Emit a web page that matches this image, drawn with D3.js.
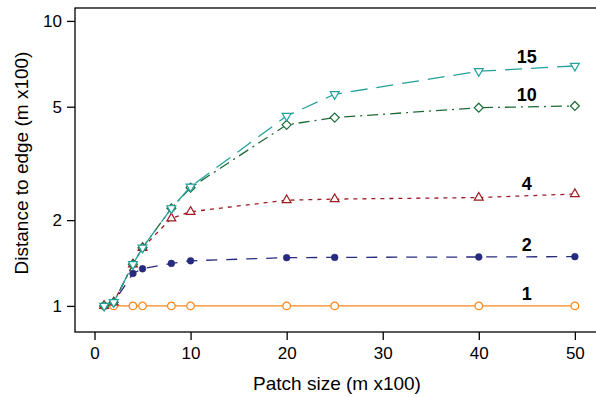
<!DOCTYPE html>
<html>
<head>
<meta charset="utf-8">
<script src="https://cdn.jsdelivr.net/npm/d3@7"></script>
<style>
    body { margin: 0; background: #fff; }
    svg { display: block; font-family: "Liberation Sans", Arial, sans-serif; }
    .axis path, .axis line { stroke: #000; stroke-width: 1.3; }
    .axis text { font-size: 17px; fill: #000; }
    .title { font-size: 19px; fill: #000; }
    .seriesLabel { font-size: 18px; font-weight: bold; fill: #000; }
</style>
</head>
<body>
<script>
    //patch sizes (m x100)
    var patchSize = [1, 2, 4, 5, 8, 10, 20, 25, 40, 50];
    //series names
    var seriesNames = ["1", "2", "4", "10", "15"];
    //distance to edge for each series
    var dist1 = [1, 1, 1, 1, 1, 1, 1, 1, 1, 1];
    var dist2 = [1, 1.03, 1.30, 1.35, 1.41, 1.44, 1.477, 1.48, 1.485, 1.489];
    var dist4 = [1, 1.03, 1.40, 1.60, 2.03, 2.14, 2.35, 2.37, 2.40, 2.47];
    var dist10 = [1, 1.03, 1.40, 1.60, 2.20, 2.60, 4.32, 4.58, 4.96, 5.03];
    var dist15 = [1, 1.03, 1.40, 1.60, 2.20, 2.62, 4.64, 5.53, 6.66, 6.95];
    //axis ticks
    var xTicks = [0, 10, 20, 30, 40, 50];
    var yTicks = [1, 2, 5, 10];

(function(){
    var allSeries = [dist1, dist2, dist4, dist10, dist15];
    var colors = ["#f7881f", "#272b7e", "#9c1b22", "#1d6a37", "#23a09c"];
    var dashes = [null, "11,9", "4,5", "11,5,2,5", "17,9"];
    var symbols = ["circle", "dot", "triUp", "diamond", "triDown"];

    var width = 596, height = 397;
    var padLeft = 75, padTop = 8, padBottom = 332;

    var svg = d3.select("body").append("svg")
        .attr("width", width)
        .attr("height", height);

    //scales
    var x = d3.scaleLinear().domain([-2.03, 52.2]).range([padLeft, 596]);
    var y = d3.scaleLog().domain([0.81, 11.1]).range([padBottom, padTop]);

    //plot box (right side runs off the image)
    svg.append("rect")
        .attr("x", padLeft).attr("y", padTop)
        .attr("width", 560).attr("height", padBottom - padTop)
        .attr("fill", "none").attr("stroke", "#000").attr("stroke-width", 1.3);

    //x axis
    var xAxis = svg.append("g")
        .attr("class", "axis")
        .attr("transform", "translate(0," + padBottom + ")")
        .call(d3.axisBottom(x).tickValues(xTicks).tickSize(8).tickPadding(7).tickSizeOuter(0));
    xAxis.select(".domain").remove();

    //y axis
    var yAxis = svg.append("g")
        .attr("class", "axis")
        .attr("transform", "translate(" + padLeft + ",0)")
        .call(d3.axisLeft(y).tickValues(yTicks).tickFormat(d3.format("d")).tickSize(8).tickPadding(5).tickSizeOuter(0));
    yAxis.select(".domain").remove();

    //axis titles
    svg.append("text")
        .attr("class", "title")
        .attr("x", 337).attr("y", 390)
        .attr("text-anchor", "middle")
        .text("Patch size (m x100)");

    svg.append("text")
        .attr("class", "title")
        .attr("transform", "translate(28,163) rotate(-90)")
        .attr("text-anchor", "middle")
        .text("Distance to edge (m x100)");

    var line = d3.line()
        .x(function(d){ return x(d[0]); })
        .y(function(d){ return y(d[1]); });

    var tri = d3.symbol().type(d3.symbolTriangle).size(34);

    allSeries.forEach(function(vals, s){
        var pts = patchSize.map(function(p, i){ return [p, vals[i]]; });
        var g = svg.append("g");

        g.append("path")
            .datum(pts)
            .attr("d", line)
            .attr("fill", "none")
            .attr("stroke", colors[s])
            .attr("stroke-width", 1.3)
            .attr("stroke-dasharray", dashes[s]);

        var marks = g.selectAll(".pt")
            .data(pts)
            .enter()
            .append("g")
            .attr("transform", function(d){ return "translate(" + x(d[0]) + "," + y(d[1]) + ")"; });

        if (symbols[s] == "circle") {
            marks.append("circle").attr("r", 3.8)
                .attr("fill", "#fff").attr("stroke", colors[s]).attr("stroke-width", 1.2);
        } else if (symbols[s] == "dot") {
            marks.append("circle").attr("r", 3.4)
                .attr("fill", colors[s]).attr("stroke", colors[s]).attr("stroke-width", 0.5);
        } else if (symbols[s] == "triUp") {
            marks.append("path").attr("d", tri)
                .attr("fill", "#fff").attr("stroke", colors[s]).attr("stroke-width", 1.2);
        } else if (symbols[s] == "triDown") {
            marks.append("path").attr("d", tri).attr("transform", "rotate(180)")
                .attr("fill", "#fff").attr("stroke", colors[s]).attr("stroke-width", 1.2);
        } else {
            marks.append("path").attr("d", "M0,-4.5L4.5,0L0,4.5L-4.5,0Z")
                .attr("fill", "#fff").attr("stroke", colors[s]).attr("stroke-width", 1.2);
        }

        //series label above the curve near x = 45
        var v45 = vals[8] + (vals[9] - vals[8]) * 0.5;
        svg.append("text")
            .attr("class", "seriesLabel")
            .attr("x", x(45)).attr("y", y(v45) - 12)
            .attr("dy", "0.35em")
            .attr("text-anchor", "middle")
            .text(seriesNames[s]);
    });
})();
</script>
</body>
</html>
